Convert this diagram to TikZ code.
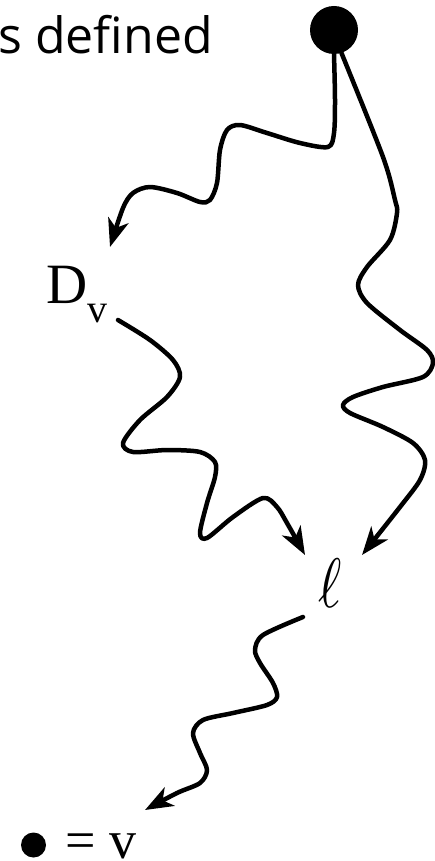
\documentclass[tikz,border=0pt]{standalone}
\usepackage{graphicx}
\usepackage{fontspec}
\setmainfont{Liberation Serif}
\newfontfamily\capsans{Open Sans}
\usetikzlibrary{arrows.meta}

\tikzset{
  wavy/.style={line width=4.5pt, line cap=round, line join=round,
    -{Stealth[length=28pt, width=21pt, inset=8pt]}},
  vertex/.style={circle, fill=black, inner sep=0pt, minimum size=#1},
}

\begin{document}
\begin{tikzpicture}[x=1pt, y=-1pt]
  \useasboundingbox (0,0) rectangle (435,861);

  % caption, cut off at the left border
  \node[anchor=base east, inner sep=0pt, font=\capsans\fontsize{50}{60}\selectfont]
    (caption) at (213,54) {s defined};

  % vertex and labels
  \node[vertex=48pt] (vtx) at (334,30) {};
  \node[anchor=base west, inner sep=0pt, font=\fontsize{57}{60}\selectfont]
    (dv) at (46,303) {D\raisebox{-19pt}{\fontsize{40}{40}\selectfont v}};
  \node[anchor=base west, inner sep=0pt] (ell) at (318,607)
    {\scalebox{5.6}[7]{$\ell$}};

  % legend
  \node[vertex=25pt] (key) at (33.5,845) {};
  \node[anchor=base west, inner sep=0pt, font=\fontsize{54}{60}\selectfont]
    (keytext) at (65,858) {= v};

  % free ends of the wavy arrows
  \coordinate (dvtip) at (110,247);
  \coordinate (dvout) at (118,320);
  \coordinate (elltipa) at (305,555);
  \coordinate (elltipb) at (362,555);
  \coordinate (ellout) at (303,617);
  \coordinate (keytip) at (145,810);

  % vertex -> D_v
  \draw[wavy] plot[smooth, tension=0.5] coordinates {(vtx.south) (335,100)
    (334,133) (328,147) (300,143) (267,133) (240,125) (227,130) (220,150)
    (217,183) (210,200) (200,202) (177,193) (150,187) (133,193) (123,208)
    (dvtip)};
  % vertex -> ell
  \draw[wavy] plot[smooth, tension=0.5] coordinates {(vtx.-72) (383,157)
    (395,200) (397,213) (390,240) (367,267) (358,285) (367,303) (400,330)
    (427,350) (433,363) (423,377) (383,387) (353,397) (343,405) (350,413)
    (383,427) (413,443) (425,460) (420,480) (400,507) (elltipb)};
  % D_v -> ell
  \draw[wavy] plot[smooth, tension=0.5] coordinates {(dvout) (150,340)
    (173,360) (180,377) (167,397) (140,420) (123,443) (133,452) (167,450)
    (200,452) (215,462) (215,477) (207,503) (200,533) (207,538) (233,517)
    (263,498) (277,507) (287,523) (elltipa)};
  % ell -> key
  \draw[wavy] plot[smooth, tension=0.5] coordinates {(ellout) (263,635)
    (255,650) (260,663) (273,683) (277,697) (267,705) (233,713) (203,720)
    (193,733) (200,753) (207,770) (200,783) (177,793) (keytip)};
\end{tikzpicture}
\end{document}
